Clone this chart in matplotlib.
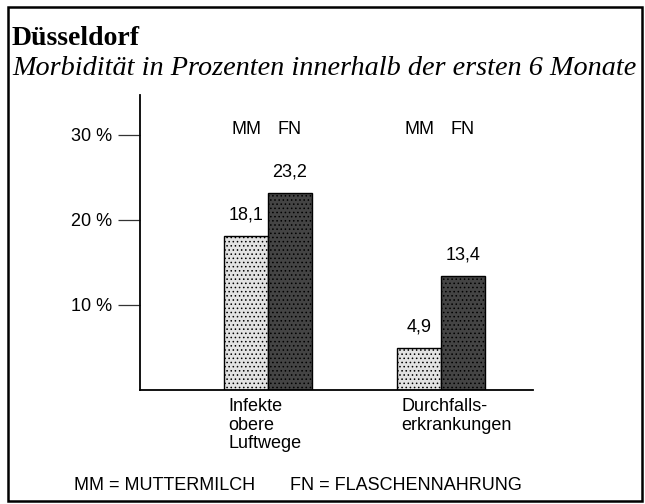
import matplotlib
matplotlib.use("Agg")
import matplotlib.pyplot as plt
from matplotlib.patches import Rectangle

# data
categories = ["Infekte\nobere\nLuftwege", "Durchfalls-\nerkrankungen"]
mm_values = [18.1, 4.9]   # Muttermilch
fn_values = [23.2, 13.4]  # Flaschennahrung
mm_labels = ["18,1", "4,9"]
fn_labels = ["23,2", "13,4"]
y_ticks = [10, 20, 30]
y_ticklabels = ["10 %", "20 %", "30 %"]

sans = "Liberation Sans"
serif = "Liberation Serif"
plt.rcParams["hatch.linewidth"] = 0.6

W, H = 645, 504
fig = plt.figure(figsize=(W / 100, H / 100), dpi=100)

# frame round the whole chart
fig.patches.append(Rectangle((8 / W, 1 - 501 / H), 634 / W, 494 / H,
                             transform=fig.transFigure, fill=False,
                             edgecolor="black", linewidth=1.8))

fig.text(12 / W, 1 - 45 / H, "Düsseldorf", family=serif, weight="bold",
         fontsize=20, va="baseline", ha="left")
fig.text(12 / W, 1 - 75 / H, "Morbidität in Prozenten innerhalb der ersten 6 Monate",
         family=serif, style="italic", fontsize=20.3, va="baseline", ha="left")

ax = fig.add_axes([140 / W, 1 - 390 / H, 393 / W, 295 / H])
ax.set_facecolor("none")

x = [0, 1]
w = 0.254
mm_x = [i - w / 2 for i in x]
fn_x = [i + w / 2 for i in x]
ax.bar(mm_x, mm_values, width=w, facecolor="#e2e2e2", edgecolor="black",
       hatch="....", linewidth=1.0, zorder=2)
ax.bar(fn_x, fn_values, width=w, facecolor="#444444", edgecolor="black",
       hatch="....", linewidth=1.0, zorder=2)

for xi, v, lab in zip(mm_x, mm_values, mm_labels):
    ax.annotate(lab, (xi, v), xytext=(0, 9), textcoords="offset points",
                ha="center", va="bottom", family=sans, fontsize=13)
for xi, v, lab in zip(fn_x, fn_values, fn_labels):
    ax.annotate(lab, (xi, v), xytext=(0, 9), textcoords="offset points",
                ha="center", va="bottom", family=sans, fontsize=13)

# MM / FN header above each group
for a, b in zip(mm_x, fn_x):
    ax.text(a, 30.6, "MM", ha="center", va="center", family=sans, fontsize=13)
    ax.text(b, 30.6, "FN", ha="center", va="center", family=sans, fontsize=13)

# category names under the bars
for xi, cat in zip(mm_x, categories):
    ax.annotate(cat, (xi - w / 2, 0), xytext=(3, -6), textcoords="offset points",
                ha="left", va="top", family=sans, fontsize=13, linespacing=1.1,
                annotation_clip=False)

ax.set_xlim(-0.740, 1.532)
ax.set_ylim(0, 34.7)
ax.set_yticks(y_ticks)
ax.set_yticklabels(y_ticklabels, family=sans, fontsize=13)
ax.set_xticks([])
ax.tick_params(axis="y", direction="out", length=16, width=0.9, pad=4,
               color="#333333")
for s in ["top", "right"]:
    ax.spines[s].set_visible(False)
ax.spines["left"].set_linewidth(1.3)
ax.spines["bottom"].set_linewidth(1.3)

fig.text(74 / W, 1 - 485 / H, "MM = MUTTERMILCH", family=sans, fontsize=13,
         va="center", ha="left")
fig.text(290 / W, 1 - 485 / H, "FN = FLASCHENNAHRUNG", family=sans, fontsize=13,
         va="center", ha="left")

fig.savefig("out.png", dpi=100)
